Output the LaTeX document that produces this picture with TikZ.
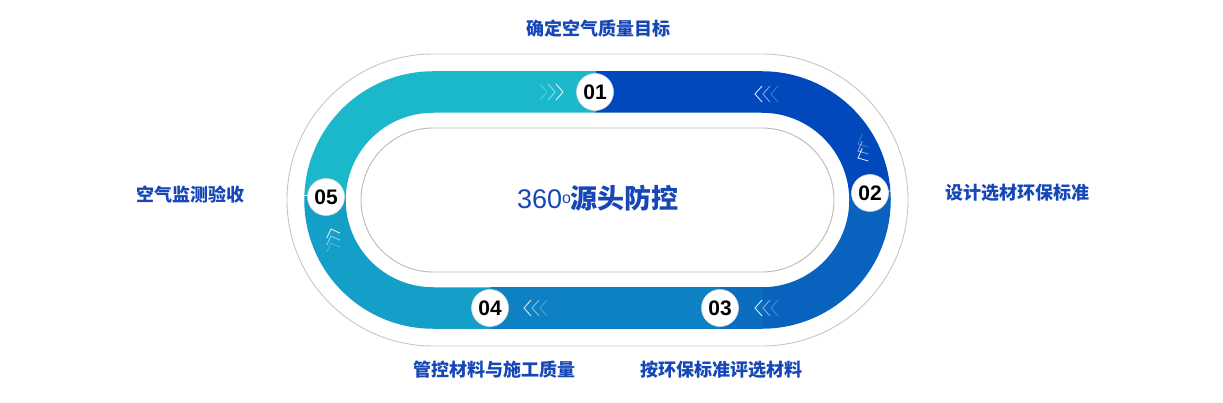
\documentclass[tikz,border=0pt]{standalone}
\usepackage{fontspec}
\setmainfont{Liberation Sans}
\newfontfamily\cjk{Noto Sans CJK SC}
\begin{document}
\begin{tikzpicture}[x=1pt,y=1pt,
  lbl/.style={font=\cjk\bfseries\fontsize{18}{20}\selectfont, text=labblue},
  num/.style={circle, fill=white, draw=white!85!black, line width=0.6pt, minimum size=37pt, inner sep=0pt, font=\bfseries\fontsize{21}{22}\selectfont},
  band/.style={line width=41.5pt},
  chev/.style={white, line width=0.9pt}]
\definecolor{labblue}{HTML}{1647B6}
\definecolor{cA}{HTML}{0048BB}
\definecolor{cB}{HTML}{0862BE}
\definecolor{cC}{HTML}{0A6DC0}
\definecolor{cD}{HTML}{0E80C4}
\definecolor{cE}{HTML}{139FC8}
\definecolor{cF}{HTML}{1BB8CC}
\useasboundingbox (0,0) rectangle (1223,402);
% outer outline
\draw[gray!45, line width=0.9pt] (433,348) -- (762,348) arc[start angle=90,end angle=-90,radius=146] -- (433,56) arc[start angle=270,end angle=90,radius=146] -- cycle;
% band
\draw[band,cA] (595,310) -- (762,310) arc[start angle=90,end angle=4,radius=108];
\draw[band,cB] (762,202) ++(4:108) arc[start angle=4,end angle=-90,radius=108];
\draw[band,cC] (762.5,94) -- (719,94);
\draw[band,cD] (720,94) -- (490,94);
\draw[band,cE] (491,94) -- (433,94) arc[start angle=-90,end angle=-182,radius=108];
\draw[band,cF] (433,202) ++(178:108) arc[start angle=178,end angle=90,radius=108] -- (596,310);
% inner outline
\draw[gray!55, line width=0.9pt, fill=white] (433,274) -- (762,274) arc[start angle=90,end angle=-90,radius=72] -- (433,130) arc[start angle=270,end angle=90,radius=72] -- cycle;
% chevrons
\foreach \i/\o in {0/0.25,1/0.5,2/0.85}{
  \draw[chev,opacity=\o] (540+8*\i,318) -- (547+8*\i,310) -- (540+8*\i,302);
  \draw[chev,opacity=\o] (778-8*\i,316) -- (771-8*\i,308) -- (778-8*\i,300) ;
}
\foreach \i/\o in {0/0.85,1/0.5,2/0.25}{
  \draw[chev,opacity=\o] (770+8*\i-8,102) -- (763+8*\i-8,94) -- (770+8*\i-8,86);
  \draw[chev,opacity=\o] (539+8*\i-8,102) -- (532+8*\i-8,94) -- (539+8*\i-8,86);
}
\foreach \i/\o in {0/0.25,1/0.5,2/0.85}{
  \draw[chev,opacity=\o,rotate around={-65:(858,258-7*\i)}] (851,266-7*\i) -- (858,258-7*\i) -- (865,266-7*\i);
}
\foreach \i/\o in {0/0.85,1/0.5,2/0.25}{
  \draw[chev,opacity=\o,rotate around={20:(331,173-7*\i)}] (324,166-7*\i) -- (331,173-7*\i) -- (338,166-7*\i);
}
% number nodes
\node[num] (n1) at (595,310) {01};
\node[num] (n2) at (870,209) {02};
\node[num] (n3) at (720,94) {03};
\node[num] (n4) at (490,94) {04};
\node[num] (n5) at (326,205) {05};
% center
\node (c) at (598,204) {\textcolor{labblue}{\fontsize{27}{30}\selectfont 360\raisebox{5pt}{\fontsize{16}{16}\selectfont o}\cjk\bfseries 源头防控}};
% labels
\node[lbl] (l1) at (598,373) {确定空气质量目标};
\node[lbl] (l2) at (1017,209) {设计选材环保标准};
\node[lbl] (l3) at (721,32) {按环保标准评选材料};
\node[lbl] (l4) at (494,32) {管控材料与施工质量};
\node[lbl] (l5) at (190,207) {空气监测验收};
\end{tikzpicture}
\end{document}
